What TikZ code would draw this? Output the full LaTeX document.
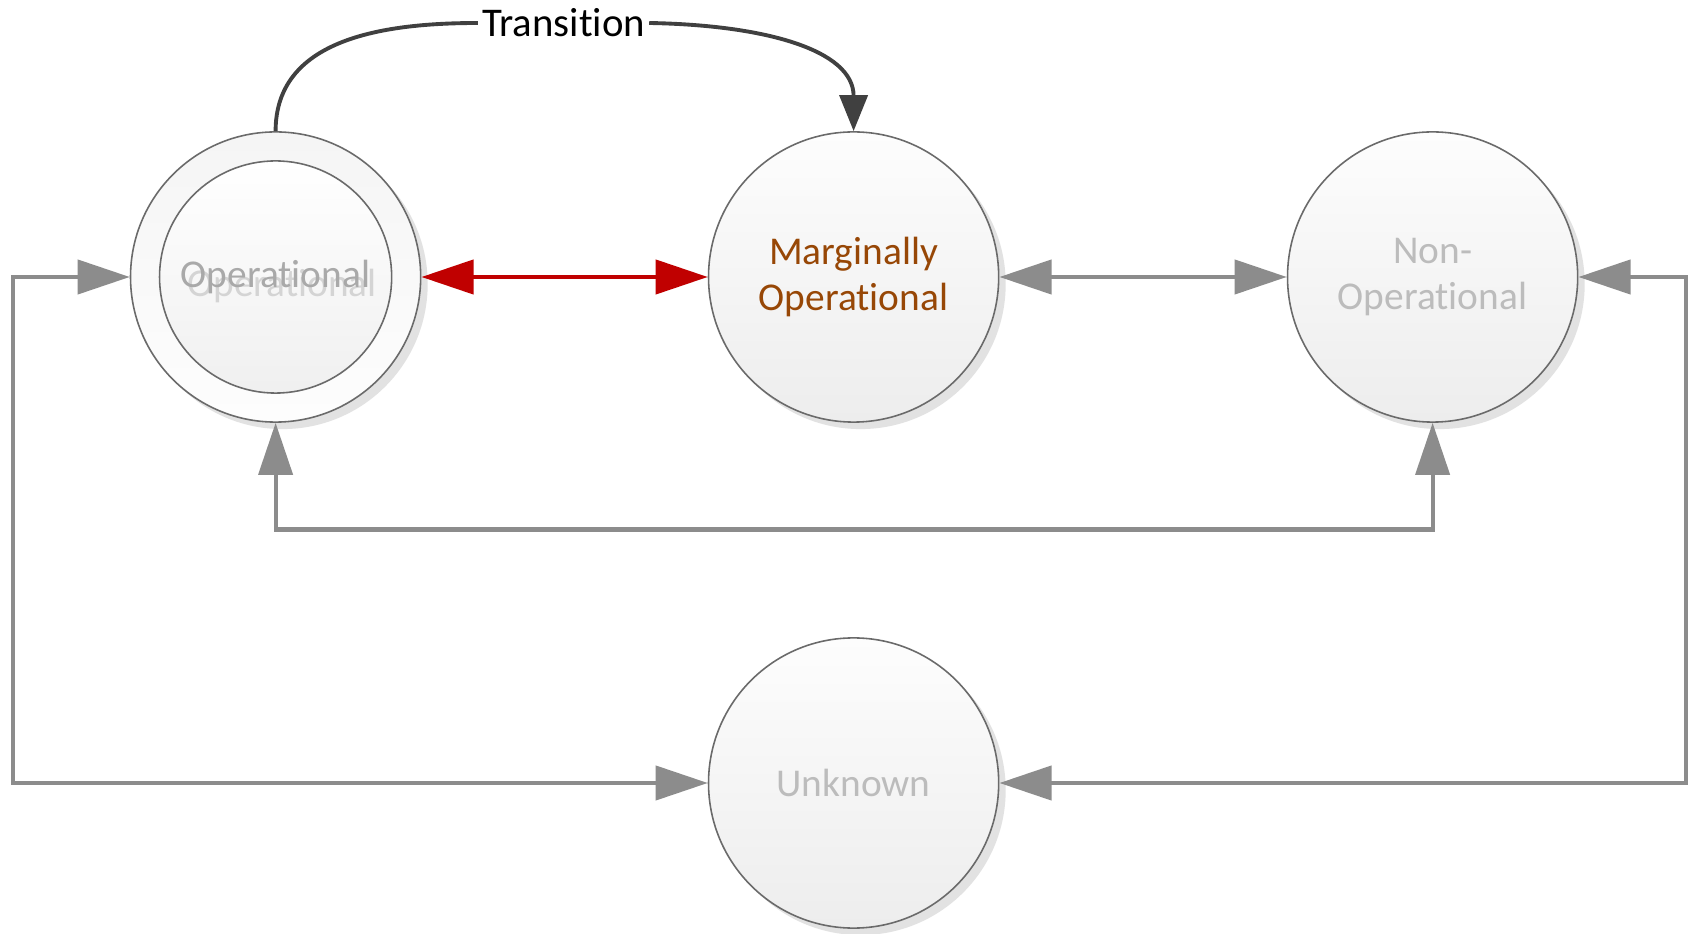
\documentclass[tikz,border=0pt]{standalone}
\usepackage{fontspec}
\setmainfont{Carlito}[RawFeature={-liga;-clig;-dlig;-calt}]
\usetikzlibrary{arrows.meta,shadows}
\definecolor{edgegray}{HTML}{6A6A6A}
\definecolor{filltop}{HTML}{FDFDFD}
\definecolor{fillbot}{HTML}{EDEDED}
\definecolor{ringtop}{HTML}{F5F5F5}
\definecolor{ringbot}{HTML}{FDFDFD}
\definecolor{shadowgray}{HTML}{E2E2E2}
\definecolor{labelgray}{HTML}{BCBCBC}
\definecolor{ghostgray}{HTML}{D4D4D4}
\definecolor{brownlabel}{HTML}{974706}
\definecolor{linkgray}{HTML}{8C8C8C}
\definecolor{linkred}{HTML}{C00000}
\definecolor{transgray}{HTML}{404040}
\newcommand{\statefont}{\fontsize{11.2pt}{13.1pt}\selectfont}
\newcommand{\transfont}{\fontsize{11.6pt}{13.4pt}\selectfont}
\begin{document}
\begin{tikzpicture}[x=0.01cm,y=-0.01cm,
  statenode/.style={circle, draw=edgegray, line width=0.45pt, inner sep=0pt,
    minimum size=2.9cm, top color=filltop, bottom color=fillbot,
    font=\statefont, text=labelgray, align=center},
  shadowed/.style={drop shadow={shadow xshift=0.07cm, shadow yshift=-0.07cm,
    fill=shadowgray, opacity=1}},
  innernode/.style={circle, draw=edgegray, line width=0.45pt, inner sep=0pt,
    minimum size=2.32cm, top color=white, bottom color=fillbot!85!white},
  link/.style={line width=1.15pt, draw=linkgray,
    {Triangle[length=0.52cm,width=0.34cm]}-{Triangle[length=0.52cm,width=0.34cm]}},
  redlink/.style={link, draw=linkred},
  trans/.style={line width=1.1pt, draw=transgray},
]
\useasboundingbox[fill=white] (0,0) rectangle (1688,934);

% states
\node[statenode, shadowed, top color=ringtop, bottom color=ringbot] (op) at (275.6,277) {};
\node[innernode] (opin) at (op.center) {};
\node[font=\statefont, text=ghostgray] (opghost) at (282,286) {Operational};
\node[font=\statefont, text=labelgray!90!black] (oplabel) at (op.center) {Operational};

\node[statenode, shadowed, text=brownlabel] (mo) at (853.6,277) {Marginally\\Operational};
\node[statenode, shadowed] (no) at (1432.6,277) {Non-\\Operational};
\node[statenode, shadowed] (un) at (853.6,783) {Unknown};

% routing points of the outer loops
\coordinate (xl) at (13,0);
\coordinate (xr) at (1685.5,0);
\coordinate (yb) at (0,529.5);

% two-way links between states
\draw[redlink] (op) -- (mo);
\draw[link] (mo) -- (no);
\draw[link] (op.south) -- (op.south |- yb) -- (no.south |- yb) -- (no.south);
\draw[link] (un.west) -- (un.west -| xl) -- (op.west -| xl) -- (op.west);
\draw[link] (no.east) -- (no.east -| xr) -- (un.east -| xr) -- (un.east);

% labelled transition
\node[font=\transfont, text=black, inner sep=1pt] (tr) at (563.5,23) {Transition};
\draw[trans] (op.north) .. controls (275.6,40) and (380,23) .. (tr.west);
\draw[trans, -{Triangle[length=0.36cm,width=0.28cm]}] (tr.east)
  .. controls (765,25) and (853.6,50) .. (mo.north);
\end{tikzpicture}
\end{document}
